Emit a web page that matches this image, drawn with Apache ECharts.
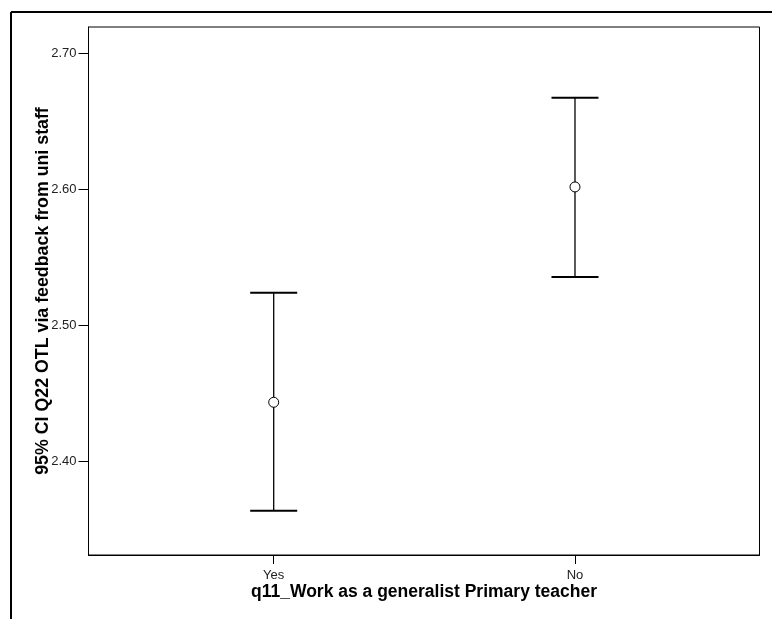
<!DOCTYPE html>
<html>
<head>
<meta charset="utf-8">
<script src="https://cdn.jsdelivr.net/npm/echarts@6/dist/echarts.min.js"></script>
<style>html,body{margin:0;padding:0;background:#fff}#c{width:772px;height:619px}</style>
</head>
<body>
<div id="c"></div>
<script>
var categories = ["Yes", "No"];
var means = [2.4436, 2.6018];
var lowerCI = [2.3639, 2.5356];
var upperCI = [2.5241, 2.6674];
var yTicks = [2.40, 2.50, 2.60, 2.70];

var chart = echarts.init(document.getElementById('c'));
var font = '"Liberation Sans", Arial, sans-serif';

var barData = categories.map(function (c, i) { return [i, lowerCI[i], upperCI[i]]; });
var meanData = categories.map(function (c, i) { return [i, means[i]]; });

chart.setOption({
  animation: false,
  backgroundColor: '#fff',
  graphic: [
    { type: 'line', shape: { x1: 11, y1: 12, x2: 772, y2: 12 }, style: { stroke: '#000', lineWidth: 2 } },
    { type: 'line', shape: { x1: 11, y1: 12, x2: 11, y2: 619 }, style: { stroke: '#000', lineWidth: 2 } }
  ],
  grid: {
    left: 88.5, right: 12.5, top: 27, bottom: 64,
    show: true, borderColor: '#000', borderWidth: 1, backgroundColor: 'transparent'
  },
  xAxis: {
    type: 'value',
    min: -0.6147, max: 1.6124,
    splitLine: { show: false },
    axisLine: { onZero: false, lineStyle: { color: '#000', width: 1 } },
    axisTick: { customValues: [0, 1], length: 9, lineStyle: { color: '#000' } },
    axisLabel: {
      customValues: [0, 1], margin: 14, color: '#222', fontFamily: font, fontSize: 13,
      formatter: function (v) { return categories[Math.round(v)]; }
    },
    name: 'q11_Work as a generalist Primary teacher',
    nameLocation: 'middle', nameGap: 28, nameMoveOverlap: false,
    nameTextStyle: { fontFamily: font, fontSize: 17.5, fontWeight: 'bold', color: '#000' }
  },
  yAxis: {
    type: 'value',
    min: 2.3314, max: 2.7193,
    splitLine: { show: false },
    axisLine: { show: true, onZero: false, lineStyle: { color: '#000', width: 1 } },
    axisTick: { show: true, customValues: yTicks, length: 10, lineStyle: { color: '#000' } },
    axisLabel: {
      customValues: yTicks, margin: 12, color: '#222', fontFamily: font, fontSize: 13,
      formatter: function (v) { return v.toFixed(2); }
    },
    name: '95% CI Q22 OTL via feedback from uni staff',
    nameLocation: 'middle', nameGap: 36, nameRotate: 90, nameMoveOverlap: false,
    nameTextStyle: { fontFamily: font, fontSize: 17.8, fontWeight: 'bold', color: '#000' }
  },
  series: [
    {
      type: 'custom',
      data: barData,
      renderItem: function (params, api) {
        var x = api.value(0);
        var lo = api.coord([x, api.value(1)]);
        var hi = api.coord([x, api.value(2)]);
        var hw = 23.5;
        return {
          type: 'group',
          children: [
            { type: 'line', shape: { x1: lo[0], y1: lo[1], x2: hi[0], y2: hi[1] }, style: { stroke: '#000', lineWidth: 1.3 } },
            { type: 'line', shape: { x1: hi[0] - hw, y1: hi[1], x2: hi[0] + hw, y2: hi[1] }, style: { stroke: '#000', lineWidth: 2 } },
            { type: 'line', shape: { x1: lo[0] - hw, y1: lo[1], x2: lo[0] + hw, y2: lo[1] }, style: { stroke: '#000', lineWidth: 2 } }
          ]
        };
      },
      z: 2
    },
    {
      type: 'scatter',
      data: meanData,
      symbol: 'circle',
      symbolSize: 10,
      itemStyle: { color: '#fff', borderColor: '#000', borderWidth: 1, opacity: 1 },
      emphasis: { disabled: true },
      z: 3
    }
  ]
});
</script>
</body>
</html>
